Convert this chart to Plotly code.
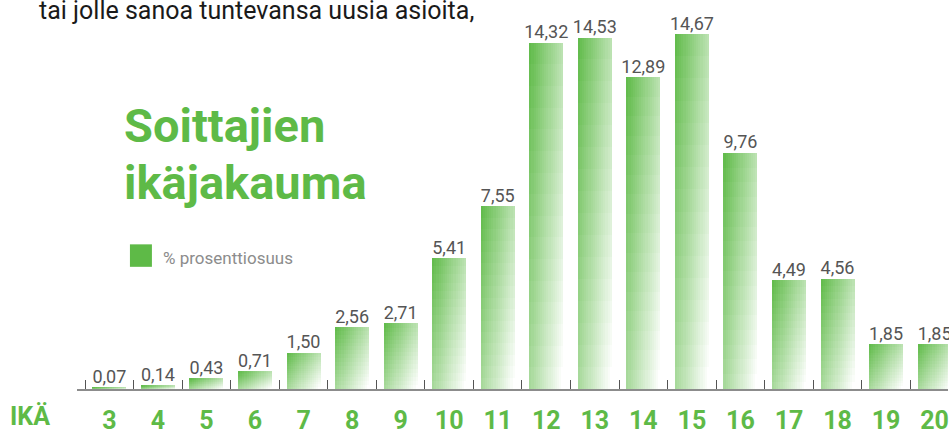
import plotly.graph_objects as go

# ---- data ----
ages = [3, 4, 5, 6, 7, 8, 9, 10, 11, 12, 13, 14, 15, 16, 17, 18, 19, 20]
shares = [0.07, 0.14, 0.43, 0.71, 1.50, 2.56, 2.71, 5.41, 7.55,
          14.32, 14.53, 12.89, 14.67, 9.76, 4.49, 4.56, 1.85, 1.85]
value_labels = [f"{v:.2f}".replace(".", ",") for v in shares]
age_labels = [str(a) for a in ages]
title_lines = ["Soittajien", "ikäjakauma"]
legend_label = "% prosenttiosuus"
axis_label = "IKÄ"
intro_text = "tai jolle sanoa tuntevansa uusia asioita,"

# ---- style ----
W, H = 949, 435
ML, MR, MT, MB = 77, 0, 0, 37
PW, PH = W - ML - MR, H - MT - MB
GREEN = (94, 186, 71)
GREEN_HEX = "#5eba47"
LABEL_GRAY = "#555555"
FONT = "Roboto, Liberation Sans, sans-serif"
BAR_W = 0.70
NCOL, NROW = 16, 16


def px_x(px):
    return (px - ML) / PW


def px_y(py):
    return (MT + PH - py) / PH


def mix(t):
    t = max(0.0, min(1.0, t))
    r, g, b = (round(c + (255 - c) * t) for c in GREEN)
    return f"rgb({r},{g},{b})"


fig = go.Figure()

# gradient bars built from slices of the same data bars
slice_w = BAR_W / NCOL
for j in range(NROW):
    for i in range(NCOL):
        t = 0.58 * (i + 0.5) / NCOL + 0.45 * (1 - (j + 0.5) / NROW)
        wfac = 1.5 if i < NCOL - 1 else 1.0
        hfac = 1.5 if j < NROW - 1 else 1.0
        fig.add_trace(go.Bar(
            x=ages,
            y=[v / NROW * hfac for v in shares],
            base=[v * j / NROW for v in shares],
            width=slice_w * wfac,
            offset=-BAR_W / 2 + i * slice_w,
            marker=dict(color=mix(t), line=dict(width=0)),
            hoverinfo="skip",
            showlegend=False,
        ))

# value labels
fig.add_trace(go.Scatter(
    x=ages, y=shares, mode="text", text=value_labels,
    textposition="top center",
    textfont=dict(family=FONT, size=18, color=LABEL_GRAY),
    hoverinfo="skip", showlegend=False, cliponaxis=False,
))

fig.update_layout(
    width=W, height=H,
    margin=dict(l=ML, r=MR, t=MT, b=MB, pad=0),
    paper_bgcolor="white", plot_bgcolor="white",
    barmode="overlay", bargap=0,
    xaxis=dict(
        range=[2.333, 20.276], showgrid=False, zeroline=False,
        showline=True, linecolor="#8c8c8c", linewidth=1.5,
        tickmode="array", tickvals=ages, ticktext=age_labels,
        ticks="", ticklabelstandoff=8, ticklabeloverflow="allow",
        tickfont=dict(family=FONT, size=25, color=GREEN_HEX, weight="bold"),
        minor=dict(tickmode="array", tickvals=[a - 0.5 for a in ages] + [ages[-1] + 0.5],
                   ticks="inside", ticklen=9, tickwidth=1, tickcolor="#555555"),
        fixedrange=True,
    ),
    yaxis=dict(range=[0, PH / 24.75], visible=False, fixedrange=True),
    showlegend=False,
)

anns = [
    dict(text=intro_text, x=px_x(37), y=px_y(11), xanchor="left", yanchor="middle",
         font=dict(family=FONT, size=25, color="#1a1a1a")),
    dict(text=title_lines[0], x=px_x(122), y=px_y(128), xanchor="left", yanchor="middle",
         font=dict(family=FONT, size=47, color=GREEN_HEX, weight="bold")),
    dict(text=title_lines[1], x=px_x(122), y=px_y(187), xanchor="left", yanchor="middle",
         font=dict(family=FONT, size=47, color=GREEN_HEX, weight="bold")),
    dict(text=legend_label, x=px_x(161), y=px_y(264), xanchor="left", yanchor="middle",
         font=dict(family=FONT, size=17, color="#8c8c8c")),
    dict(text=axis_label, x=px_x(8), y=px_y(426), xanchor="left", yanchor="middle",
         font=dict(family=FONT, size=25, color=GREEN_HEX, weight="bold")),
]
for a in anns:
    a.update(xref="paper", yref="paper", showarrow=False)
fig.update_layout(annotations=anns)

fig.add_shape(type="rect", xref="paper", yref="paper",
              x0=px_x(130), x1=px_x(152), y0=px_y(273), y1=px_y(250),
              fillcolor=GREEN_HEX, line=dict(width=0))

fig.write_html("out.html", config={"displayModeBar": False},
               post_script="document.body.style.margin='0';")
